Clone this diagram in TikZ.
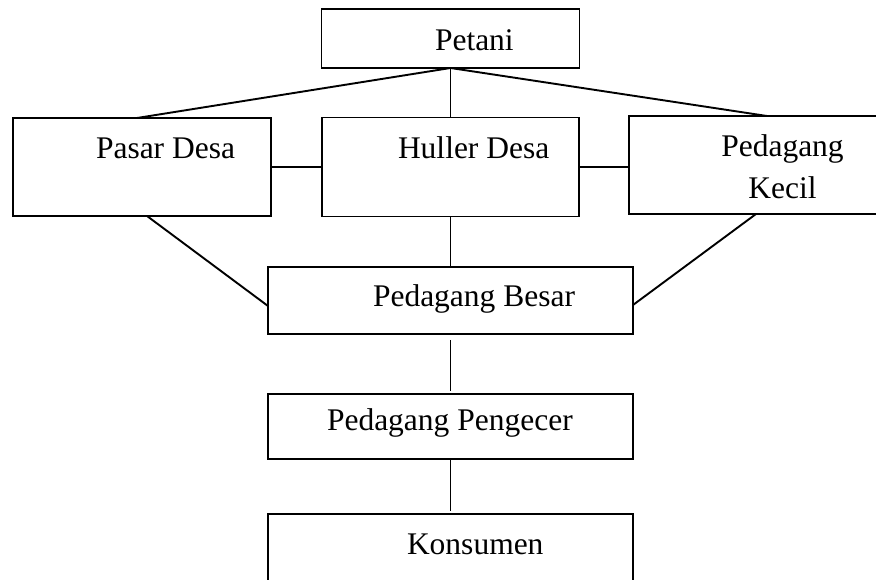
\documentclass[tikz,border=0pt]{standalone}
\usepackage{fontspec}
\setmainfont{Liberation Serif}
\begin{document}
\begin{tikzpicture}[x=1pt,y=-1pt,
  box/.style={draw,line width=1.9pt,rectangle,inner sep=0pt,outer sep=0pt},
  lbl/.style={inner sep=0pt,outer sep=0pt,font=\fontsize{31.5}{40}\selectfont},
  link/.style={line width=1.9pt}]
\useasboundingbox (0,0) rectangle (876,580);
\clip (0,0) rectangle (876,580);

% boxes
\node[box,minimum width=258pt,minimum height=59pt] (petani) at (450.5,38.5) {};
\node[box,minimum width=258pt,minimum height=98pt] (pasar) at (142,167) {};
\node[box,minimum width=257pt,minimum height=99pt] (huller) at (450.5,167) {};
\node[box,minimum width=258pt,minimum height=98pt] (kecil) at (758,165) {};
\node[box,minimum width=365pt,minimum height=67pt] (besar) at (450.5,300.5) {};
\node[box,minimum width=365pt,minimum height=65pt] (pengecer) at (450.5,426.5) {};
\node[box,minimum width=365pt,minimum height=80pt] (konsumen) at (450.5,554) {};

% labels
\node[lbl,anchor=base west] (tpetani) at (435,51) {Petani};
\node[lbl,anchor=base west] (tpasar) at (96,159) {Pasar Desa};
\node[lbl,anchor=base west] (thuller) at (398,159) {Huller Desa};
\node[lbl,anchor=base] (tkecil1) at (782.5,157) {Pedagang};
\node[lbl,anchor=base] (tkecil2) at (782.5,199) {Kecil};
\node[lbl,anchor=base west] (tbesar) at (373,307) {Pedagang Besar};
\node[lbl,anchor=base west] (tpengecer) at (327,430) {Pedagang Pengecer};
\node[lbl,anchor=base west] (tkonsumen) at (407,554) {Konsumen};

% connectors
\draw[link] (petani.south) -- ([xshift=-5pt]pasar.north);
\draw[link] (petani.south) -- (huller.north);
\draw[link] (petani.south) -- ([xshift=9pt]kecil.north);
\draw[link] (pasar.east) -- (huller.west);
\draw[link] (huller.east) -- (kecil.west |- huller.east);
\draw[link] ([xshift=5pt]pasar.south) -- ([yshift=-5.5pt]besar.west);
\draw[link] (huller.south) -- (besar.north);
\draw[link] ([xshift=-2pt]kecil.south) -- ([yshift=-4.5pt]besar.east);
\draw[link,shorten <=6pt,shorten >=3pt] (besar.south) -- (pengecer.north);
\draw[link,shorten >=3pt] (pengecer.south) -- (konsumen.north);
\end{tikzpicture}
\end{document}
